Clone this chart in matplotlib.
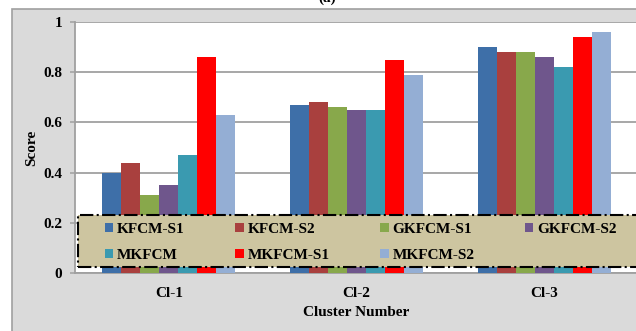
import numpy as np
import matplotlib
matplotlib.use('Agg')
import matplotlib.pyplot as plt
from matplotlib.patches import Rectangle

clusters = ['Cl-1', 'Cl-2', 'Cl-3']
methods = ['KFCM-S1', 'KFCM-S2', 'GKFCM-S1', 'GKFCM-S2', 'MKFCM', 'MKFCM-S1', 'MKFCM-S2']
kfcm_s1 = [0.40, 0.67, 0.90]
kfcm_s2 = [0.44, 0.68, 0.88]
gkfcm_s1 = [0.31, 0.66, 0.88]
gkfcm_s2 = [0.35, 0.65, 0.86]
mkfcm = [0.47, 0.65, 0.82]
mkfcm_s1 = [0.86, 0.85, 0.94]
mkfcm_s2 = [0.63, 0.79, 0.96]
scores = [kfcm_s1, kfcm_s2, gkfcm_s1, gkfcm_s2, mkfcm, mkfcm_s1, mkfcm_s2]
colors = ['#3E6FA8', '#A9403E', '#88A84B', '#6F568C', '#3A9AB0', '#FF0000', '#94AED4']

plt.rcParams['font.family'] = 'Liberation Serif'
plt.rcParams['font.weight'] = 'bold'
plt.rcParams['axes.labelweight'] = 'bold'
plt.rcParams['font.size'] = 11

W, H = 636, 331
fig = plt.figure(figsize=(W / 100, H / 100), dpi=100)
fig.patch.set_facecolor('white')

# grey chart frame (Excel style)
fig.patches.append(Rectangle((12 / W, -0.1), 1.2, 1 - 9 / H + 0.1, transform=fig.transFigure,
                             facecolor='#DADADA', edgecolor='#A0A0A0', linewidth=1.2, zorder=-5))
fig.text(327 / W, 1 - 2 / H, '(a)', ha='center', va='baseline', fontsize=11)

ax = fig.add_axes([75 / W, 1 - 273 / H, 563 / W, 251 / H])
ax.set_facecolor('white')

x = np.arange(len(clusters))
w = 0.1013
bars = []
for i, (vals, c, lab) in enumerate(zip(scores, colors, methods)):
    bars.append(ax.bar(x + (i - 3) * w, vals, w, color=c, label=lab, zorder=3))

ax.set_xlim(-0.5, 2.5)
ax.set_ylim(0, 1)
ax.set_yticks([0, 0.2, 0.4, 0.6, 0.8, 1.0])
ax.set_yticklabels(['0', '0.2', '0.4', '0.6', '0.8', '1'])
ax.set_xticks(x)
ax.set_xticklabels(clusters)
ax.yaxis.grid(True, color='#A0A0A0', linewidth=1.3, zorder=1)
ax.set_axisbelow(True)
ax.tick_params(axis='y', length=3.6, width=1.1, color='#A0A0A0', pad=5.5)
ax.tick_params(axis='x', length=0, pad=10)
for s in ['top', 'right']:
    ax.spines[s].set_visible(False)
for s in ['left', 'bottom']:
    ax.spines[s].set_color('#A0A0A0')
    ax.spines[s].set_linewidth(1.3)

ax.set_ylabel('Score', va='center')
ax.yaxis.set_label_coords(-0.0764, 0.5)
ax.set_xlabel('Cluster Number', va='center')
ax.xaxis.set_label_coords(0.5, -0.159)

# legend background box with dash-dot border
box = Rectangle((78, H - 267), 600, 52, transform=None, facecolor='#CDC5A0',
                edgecolor='black', linewidth=1.5, linestyle='-.', zorder=5)
fig.patches.append(box)

# row-major order for a 4-column legend
order = [0, 4, 1, 5, 2, 6, 3]
leg = fig.legend([bars[k] for k in order], [methods[k] for k in order],
                 loc='upper left', bbox_to_anchor=(105 / W, 1 - 223 / H), ncol=4,
                 frameon=False, borderpad=0, borderaxespad=0, handlelength=0.55,
                 handleheight=0.55, handletextpad=0.25, columnspacing=3.3,
                 labelspacing=0.85, fontsize=11)
leg.set_zorder(6)

fig.savefig('out.png', dpi=100)
